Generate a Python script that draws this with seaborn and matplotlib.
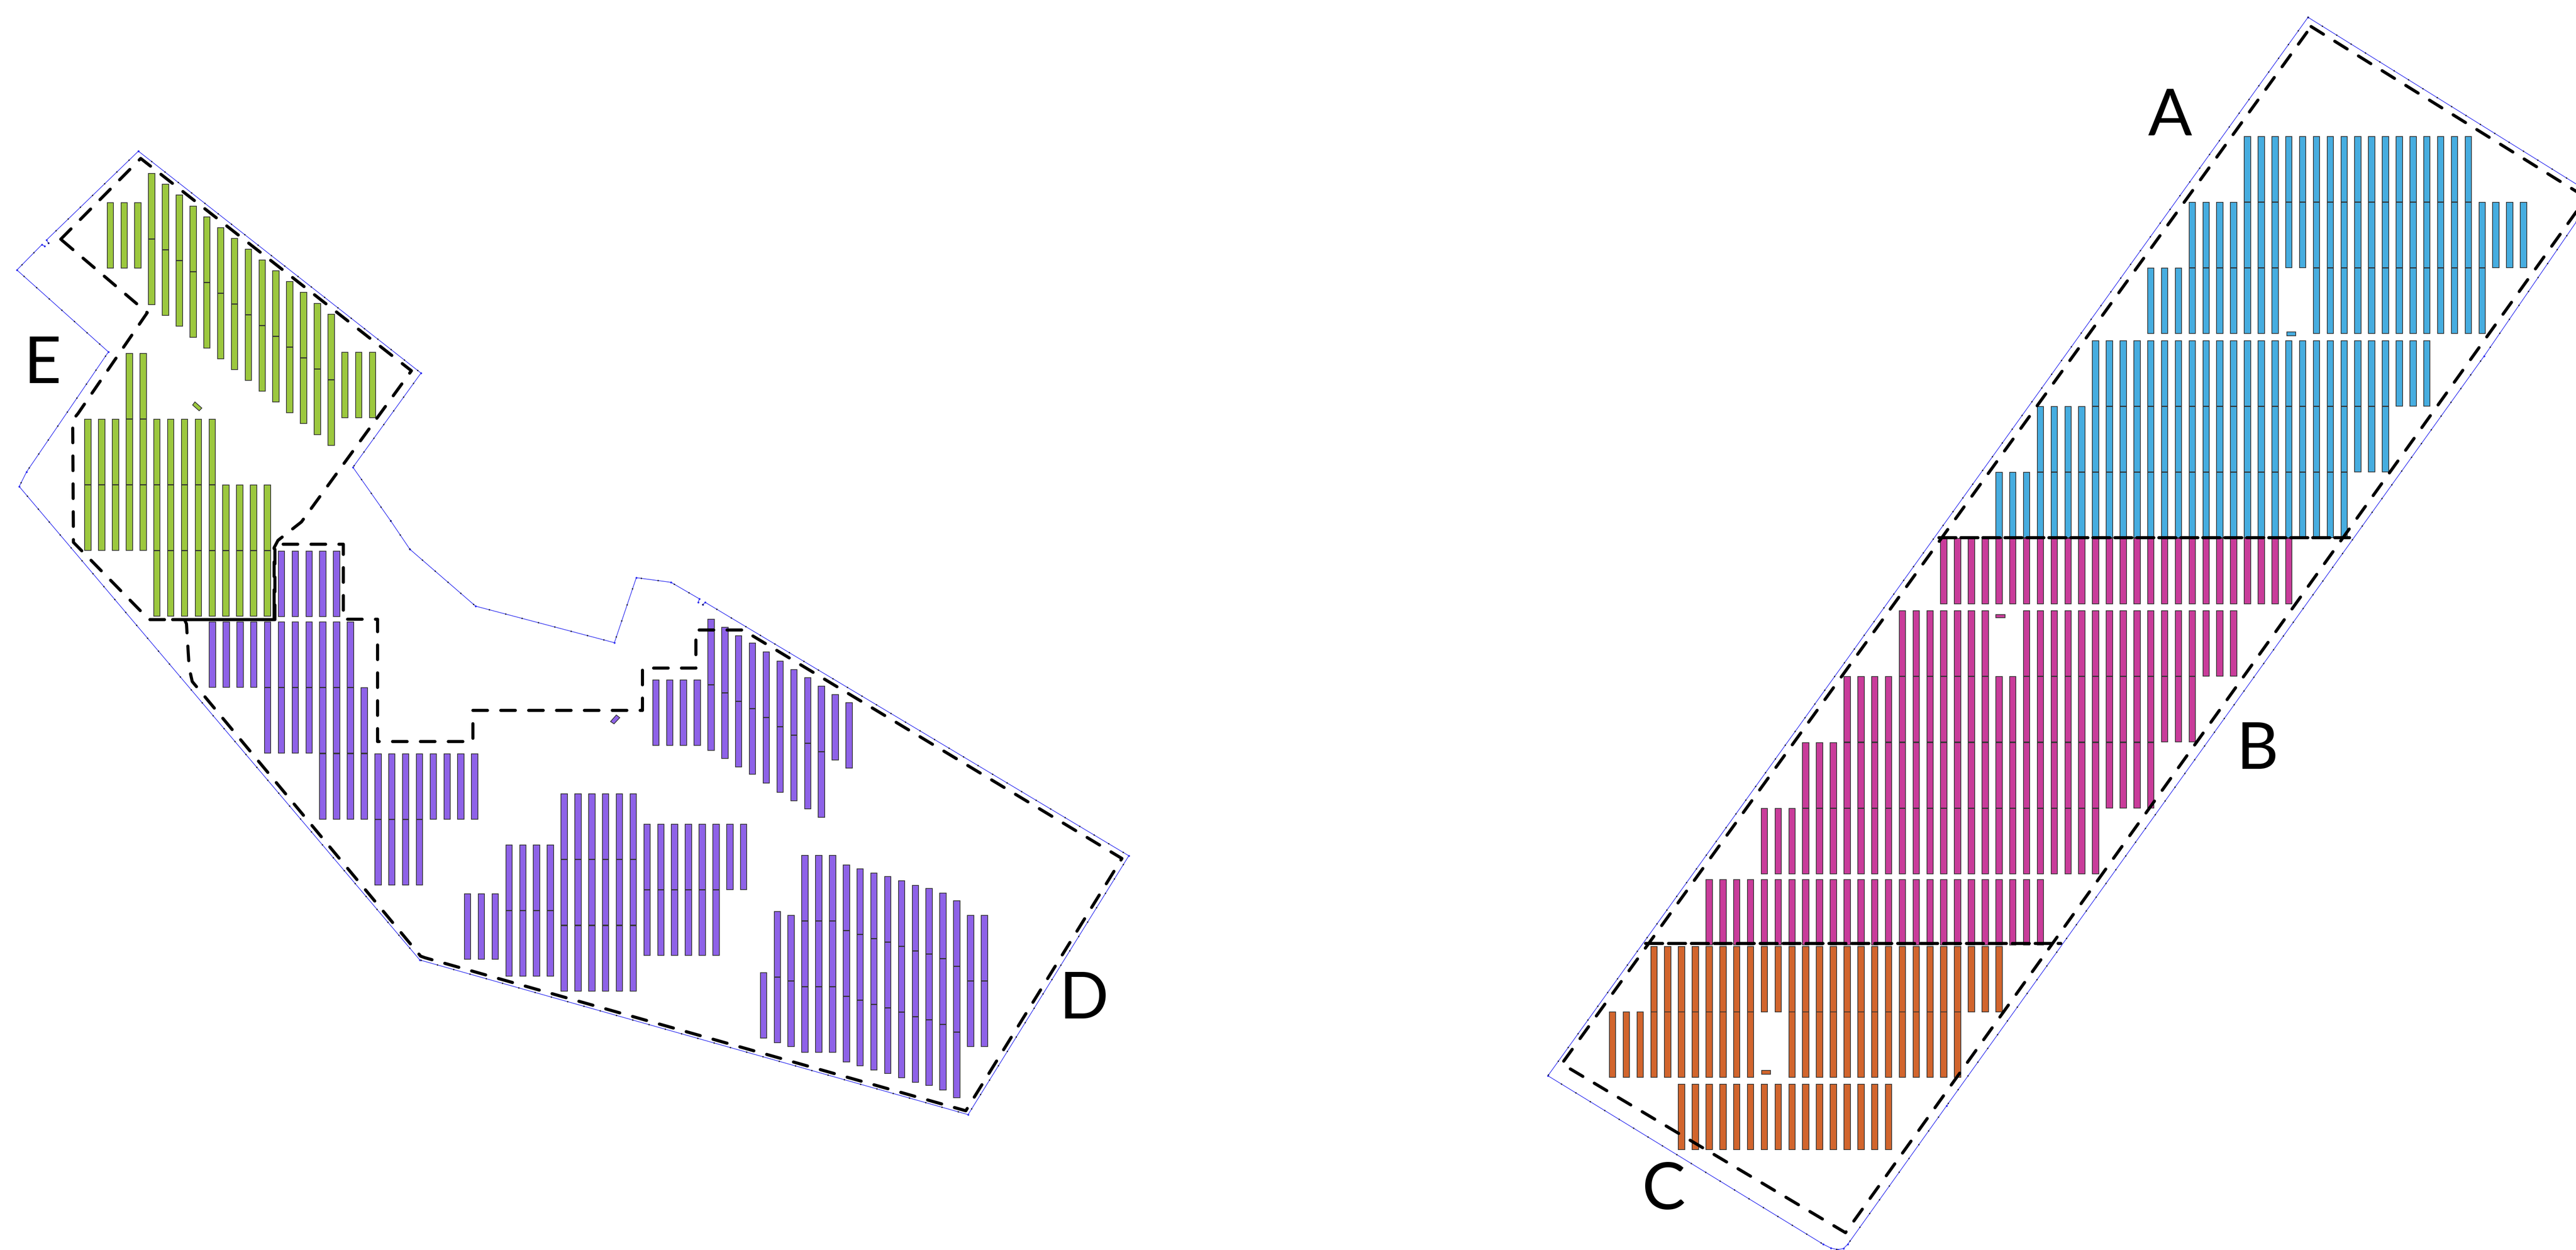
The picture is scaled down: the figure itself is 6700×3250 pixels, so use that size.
"""Site plan with PV blocks in five zones (A to E)"""

import pandas as pd
import seaborn as sns
import matplotlib.pyplot as plt

# Site outlines in image pixels
site_left_x = [360, 1095, 918, 1016, 1066, 1237, 1598, 1655, 1745, 1819, 1816]
site_left_y = [393, 970, 1215, 1354, 1428, 1576, 1671, 1502, 1514, 1557, 1566]
site_left2_x = [1828, 1834, 2936, 2518, 1092, 50, 69, 282, 44, 109, 116]
site_left2_y = [1572, 1566, 2225, 2898, 2496, 1265, 1227, 915, 702, 636, 640]
site_left3_x = [126, 121, 360]
site_left3_y = [632, 624, 393]
site_right_x = [6003, 6748, 6461, 5063, 4806, 4795, 4780, 4762, 4742, 4026, 6003]
site_right_y = [45, 508, 926, 2875, 3235, 3246, 3249, 3245, 3235, 2797, 45]

# Dashed zone borders
abc_x = [6011, 6727, 4800, 4062, 6011]
abc_y = [69, 514, 3205, 2766, 69]
e_x = [158, 366, 1070, 784, 723, 713, 713, 389, 375, 191, 189, 203, 383, 158]
e_y = [622, 412, 964, 1357, 1405, 1424, 1611, 1611, 1598, 1410, 1092, 1075, 813, 622]
d_x = [715, 715, 893, 893, 982, 982, 1230, 1230, 1671, 1671, 1810, 1810, 1937, 1944,
       2918, 2512, 1105, 1094, 500, 492, 485, 480]
d_y = [1611, 1415, 1415, 1610, 1610, 1928, 1928, 1847, 1847, 1737, 1737, 1638, 1638, 1645,
       2232, 2888, 2490, 2486, 1772, 1736, 1622, 1611]

# Zone dividers (nearly solid)
div_ab_x = [5043, 6111]
div_ab_y = [1398, 1398]
div_bc_x = [4280, 5360]
div_bc_y = [2453, 2453]
div_ed_x = [449, 713, 713]
div_ed_y = [1611, 1611, 1540]

# Rows of panels: top of the row, first column, last column, columns left out
rows_a = [(355, 18, 34, []), (526, 14, 38, []), (697, 11, 35, [21, 22]),
          (886, 7, 31, []), (1057, 3, 28, []), (1228, 0, 25, [])]
rows_b = [(1400, -4, 21, []), (1588, -7, 17, [0, 1]), (1759, -11, 14, []),
          (1931, -14, 11, []), (2102, -17, 7, []), (2287, -21, 3, [])]
rows_c = [(2461, -25, 0, []), (2631, -28, -3, [-17, -16]), (2819, -23, -8, [])]
rows_e_low = [(919, 3, 4, []), (1090, 0, 9, []), (1261, 0, 13, []), (1432, 5, 13, [])]
rows_e_up = [(527, 0, 2, []), (916, 17, 19, [])]
rows_d1 = [(1433, 5, 9, []), (1617, 0, 10, []), (1788, 4, 11, []), (1960, 8, 19, []),
           (2131, 12, 15, [])]
rows_d2 = [(2324, 0, 2, []), (2197, 3, 6, []), (2368, 3, 6, []), (2064, 7, 12, []),
           (2235, 7, 12, []), (2407, 7, 12, []), (2143, 13, 20, []), (2314, 13, 18, [])]
rows_d3 = [(1768, 0, 3, [])]

# Staggered columns: top of the first panel, panels in the column
e_stag_tops = [451, 479, 507, 536, 564, 592, 620, 648, 676, 704, 732, 760, 789, 817]
e_stag_n = [2] * 14
d3_stag_tops = [1610, 1631, 1653, 1672, 1695, 1719, 1741, 1762, 1784, 1806, 1827]
d3_stag_n = [2, 2, 2, 2, 2, 2, 2, 2, 2, 1, 1]
d4_stag_tops = [2529, 2370, 2380, 2224, 2224, 2224, 2249, 2259, 2270, 2279, 2290, 2302,
                2310, 2322, 2342, 2380, 2380]
d4_stag_n = [1, 2, 2, 3, 3, 3, 3, 3, 3, 3, 3, 3, 3, 3, 3, 2, 2]

# Small single modules: left, top, width, height
small_boxes = {'A': [5948, 863, 23, 10], 'B': [5191, 1598, 24, 8], 'C': [4582, 2783, 23, 10]}
tilted_e_x = [501, 507, 525, 518]
tilted_e_y = [1053, 1045, 1061, 1068]
tilted_d_x = [1588, 1603, 1612, 1597]
tilted_d_y = [1876, 1859, 1866, 1882]

labels = ['A', 'B', 'C', 'D', 'E']
label_x = [5644, 5871, 4328, 2819, 110]
label_y = [304, 1951, 3096, 2600, 948]

colors = {'A': '#46ADE0', 'B': '#C93C9A', 'C': '#D2652D', 'D': '#8E62E8', 'E': '#9CC83E'}

PITCH = 35.9
PANEL_W = 16.5
PANEL_H = 169.5
SEG = 171


def from_rows(zone, x0, rows):
    out = []
    for top, first, last, skip in rows:
        for col in range(first, last + 1):
            if col not in skip:
                out.append({'zone': zone, 'x': x0 + PITCH * col, 'top': top})
    return out


def from_stagger(zone, x0, tops, counts):
    out = []
    for col, (top, n) in enumerate(zip(tops, counts)):
        for k in range(n):
            out.append({'zone': zone, 'x': x0 + PITCH * col, 'top': top + SEG * k})
    return out


panels = []
panels += from_rows('A', 5191, rows_a)
panels += from_rows('B', 5191, rows_b)
panels += from_rows('C', 5191, rows_c)
panels += from_rows('E', 220.4, rows_e_low)
panels += from_rows('E', 278.6, rows_e_up)
panels += from_stagger('E', 386.3, e_stag_tops, e_stag_n)
panels += from_rows('D', 544.2, rows_d1)
panels += from_rows('D', 1207.9, rows_d2)
panels += from_rows('D', 1697.6, rows_d3)
panels += from_stagger('D', 1697.6 + 4 * PITCH, d3_stag_tops, d3_stag_n)
panels += from_stagger('D', 1977.6, d4_stag_tops, d4_stag_n)
df = pd.DataFrame(panels)

sns.set_theme(style='white')
plt.rcParams['font.family'] = ['Lato', 'DejaVu Sans']

fig = plt.figure(figsize=(67, 32.5), dpi=100)
ax = fig.add_axes([0, 0, 1, 1])

# panels
for zone, part in df.groupby('zone'):
    ax.bar(part['x'], PANEL_H, bottom=part['top'], width=PANEL_W, align='edge',
           color=colors[zone], edgecolor='#333333', linewidth=1.4, zorder=2)
for zone, (left, top, w, h) in small_boxes.items():
    ax.bar([left], h, bottom=top, width=w, align='edge', color=colors[zone],
           edgecolor='#333333', linewidth=1.4, zorder=2)
ax.fill(tilted_e_x, tilted_e_y, facecolor=colors['E'], edgecolor='#333333', linewidth=1.4, zorder=2)
ax.fill(tilted_d_x, tilted_d_y, facecolor=colors['D'], edgecolor='#333333', linewidth=1.4, zorder=2)

# blue site outline, the little survey dots are a second dotted line on top
outline_kw = dict(sort=False, estimator=None, color='#3030F0', linewidth=1.2, marker='o',
                  markersize=3.6, markerfacecolor='#3030F0', markeredgewidth=0, zorder=3)
dots_kw = dict(sort=False, estimator=None, color='#20203A', linewidth=2.8,
               linestyle=(0, (0.01, 11.3)), dash_capstyle='round', zorder=3)
for xs, ys in [(site_left_x, site_left_y), (site_left2_x, site_left2_y),
               (site_left3_x, site_left3_y), (site_right_x, site_right_y)]:
    sns.lineplot(x=xs, y=ys, ax=ax, **outline_kw)
    sns.lineplot(x=xs, y=ys, ax=ax, **dots_kw)

# dashed borders of the zones
dash_kw = dict(sort=False, estimator=None, color='black', linewidth=5.8,
               linestyle=(0, (4.7, 4.3)), dash_capstyle='round', zorder=4)
for xs, ys in [(abc_x, abc_y), (e_x, e_y), (d_x, d_y)]:
    sns.lineplot(x=xs, y=ys, ax=ax, **dash_kw)

div_kw = dict(sort=False, estimator=None, color='black', linewidth=5.8,
              dash_capstyle='round', zorder=4)
sns.lineplot(x=div_ab_x, y=div_ab_y, ax=ax, linestyle=(0, (5.5, 1.6)), **div_kw)
sns.lineplot(x=div_bc_x, y=div_bc_y, ax=ax, linestyle=(0, (5.5, 1.9)), **div_kw)
sns.lineplot(x=div_ed_x, y=div_ed_y, ax=ax, **div_kw)

for name, lx, ly in zip(labels, label_x, label_y):
    ax.text(lx, ly, name, fontsize=122, color='black', ha='center', va='center', zorder=5)

ax.set_xlim(0, 6700)
ax.set_ylim(3250, 0)
ax.set_axis_off()

fig.savefig('out.png', dpi=100, facecolor='white')
